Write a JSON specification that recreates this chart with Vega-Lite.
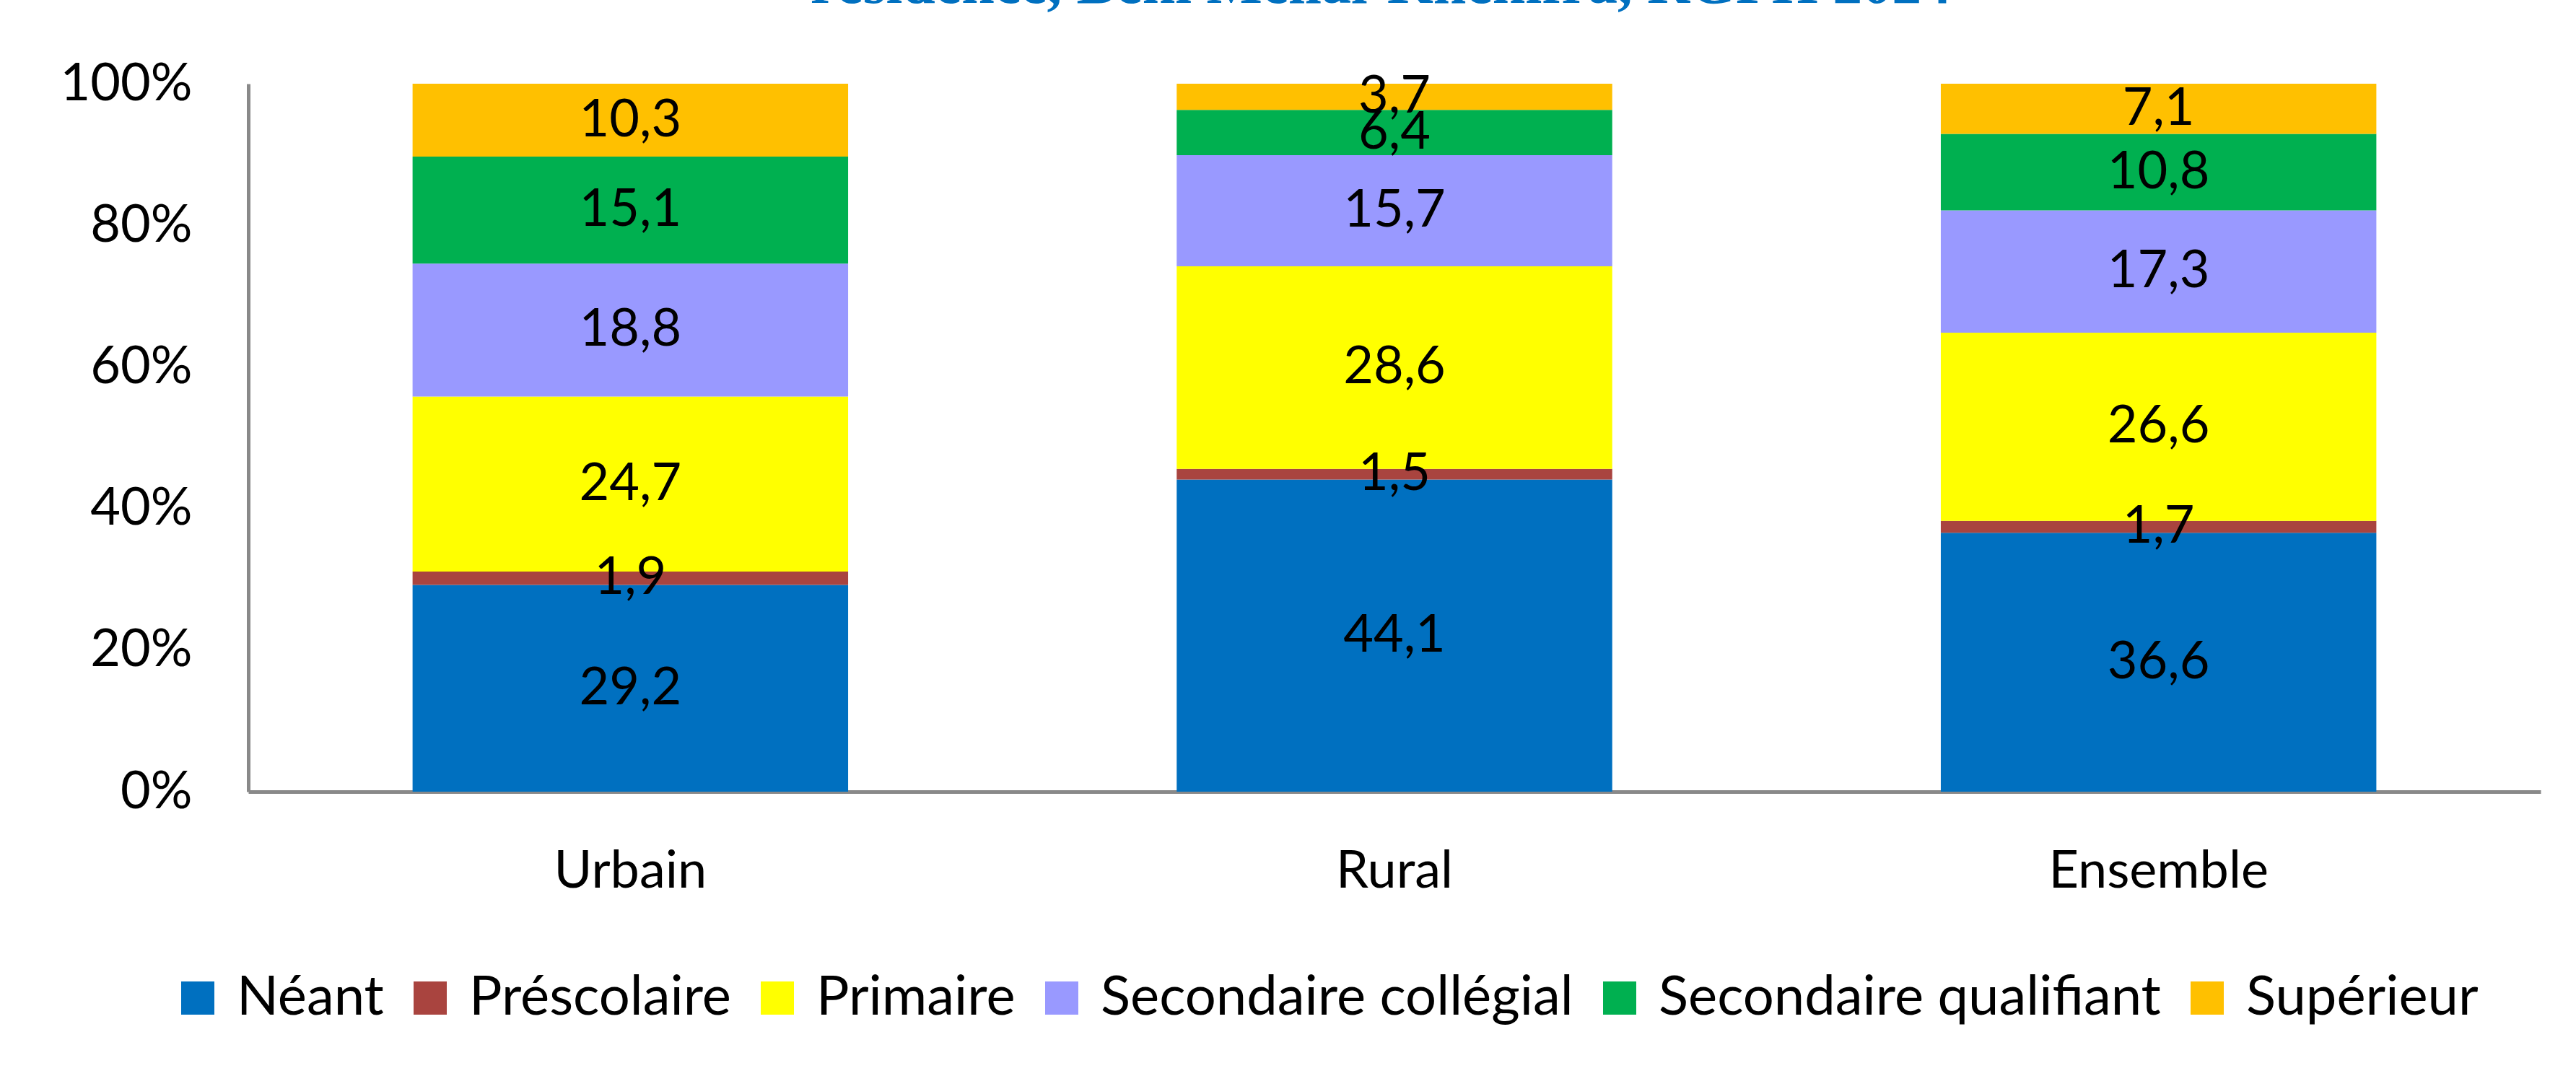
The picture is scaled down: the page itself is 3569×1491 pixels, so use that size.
{
  "$schema": "https://vega.github.io/schema/vega-lite/v6.json",
  "autosize": {"type": "none"},
  "padding": {"left": 344, "top": 116, "right": 49, "bottom": 394},
  "width": 3176,
  "height": 981,
  "background": "white",
  "config": {
    "view": {"stroke": null},
    "locale": {"number": {"decimal": ",", "thousands": "\u00a0", "grouping": [3], "currency": ["", " €"]}}
  },
  "title": {
    "text": "résidence, Béni Mellal-Khénifra, RGPH 2024",
    "anchor": "middle",
    "offset": 0,
    "dy": -59,
    "dx": -19,
    "font": "Liberation Serif",
    "fontWeight": "bold",
    "fontSize": 82,
    "color": "#0070C0"
  },
  "data": {
    "values": [
      {"milieu": "Urbain", "niveau": "Néant", "rang": 1, "pct": 29.2},
      {"milieu": "Urbain", "niveau": "Préscolaire", "rang": 2, "pct": 1.9},
      {"milieu": "Urbain", "niveau": "Primaire", "rang": 3, "pct": 24.7},
      {"milieu": "Urbain", "niveau": "Secondaire collégial", "rang": 4, "pct": 18.8},
      {"milieu": "Urbain", "niveau": "Secondaire qualifiant", "rang": 5, "pct": 15.1},
      {"milieu": "Urbain", "niveau": "Supérieur", "rang": 6, "pct": 10.3},
      {"milieu": "Rural", "niveau": "Néant", "rang": 1, "pct": 44.1},
      {"milieu": "Rural", "niveau": "Préscolaire", "rang": 2, "pct": 1.5},
      {"milieu": "Rural", "niveau": "Primaire", "rang": 3, "pct": 28.6},
      {"milieu": "Rural", "niveau": "Secondaire collégial", "rang": 4, "pct": 15.7},
      {"milieu": "Rural", "niveau": "Secondaire qualifiant", "rang": 5, "pct": 6.4},
      {"milieu": "Rural", "niveau": "Supérieur", "rang": 6, "pct": 3.7},
      {"milieu": "Ensemble", "niveau": "Néant", "rang": 1, "pct": 36.6},
      {"milieu": "Ensemble", "niveau": "Préscolaire", "rang": 2, "pct": 1.7},
      {"milieu": "Ensemble", "niveau": "Primaire", "rang": 3, "pct": 26.6},
      {"milieu": "Ensemble", "niveau": "Secondaire collégial", "rang": 4, "pct": 17.3},
      {"milieu": "Ensemble", "niveau": "Secondaire qualifiant", "rang": 5, "pct": 10.8},
      {"milieu": "Ensemble", "niveau": "Supérieur", "rang": 6, "pct": 7.1}
    ]
  },
  "encoding": {
    "x": {
      "field": "milieu",
      "type": "nominal",
      "sort": ["Urbain", "Rural", "Ensemble"],
      "scale": {"paddingInner": 0.43, "paddingOuter": 0.215},
      "axis": {
        "title": null,
        "labelAngle": 0,
        "labelFont": "Lato",
        "labelFontSize": 72,
        "labelColor": "black",
        "labelPadding": 75,
        "labelLimit": 0,
        "ticks": false,
        "domainColor": "#898989",
        "domainWidth": 5,
        "grid": false
      }
    },
    "order": {"field": "rang", "type": "quantitative", "sort": "ascending"},
    "color": {
      "field": "niveau",
      "type": "nominal",
      "sort": ["Néant", "Préscolaire", "Primaire", "Secondaire collégial", "Secondaire qualifiant", "Supérieur"],
      "scale": {
        "domain": ["Néant", "Préscolaire", "Primaire", "Secondaire collégial", "Secondaire qualifiant", "Supérieur"],
        "range": ["#0070C0", "#A9443F", "#FFFF00", "#9999FF", "#00B050", "#FFC000"]
      },
      "legend": {
        "title": null,
        "orient": "none",
        "direction": "horizontal",
        "legendX": -108,
        "legendY": 1229,
        "symbolType": "square",
        "symbolSize": 2116,
        "symbolStrokeWidth": 0,
        "symbolOpacity": 1,
        "labelFont": "Lato",
        "labelFontSize": 76,
        "labelColor": "black",
        "labelOffset": 16,
        "columnPadding": 26,
        "labelLimit": 0
      }
    }
  },
  "layer": [
    {
      "mark": {"type": "bar"},
      "encoding": {
        "y": {
          "field": "pct",
          "type": "quantitative",
          "stack": "normalize",
          "axis": {
            "title": null,
            "values": [0, 0.2, 0.4, 0.6, 0.8, 1],
            "format": ".0%",
            "labelFont": "Lato",
            "labelFontSize": 72,
            "labelColor": "black",
            "labelPadding": 78,
            "labelLimit": 0,
            "ticks": false,
            "grid": false,
            "domainColor": "#898989",
            "domainWidth": 5
          }
        }
      }
    },
    {
      "mark": {"type": "text", "font": "Lato", "fontSize": 72, "baseline": "middle", "align": "center"},
      "encoding": {
        "y": {"field": "pct", "type": "quantitative", "stack": "normalize", "bandPosition": 0.5},
        "text": {"field": "pct", "type": "quantitative", "format": ".1f"},
        "fill": {"value": "black"}
      }
    }
  ]
}
